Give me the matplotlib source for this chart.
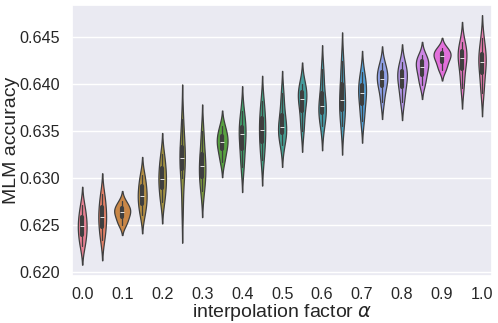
import numpy as np
import pandas as pd
import matplotlib
matplotlib.use("Agg")
import matplotlib.pyplot as plt
import seaborn as sns

# interpolation factors (x categories) and per-run MLM accuracy samples
alphas = ["0.0", "0.05", "0.1", "0.15", "0.2", "0.25", "0.3", "0.35", "0.4", "0.45",
          "0.5", "0.55", "0.6", "0.65", "0.7", "0.75", "0.8", "0.85", "0.9", "0.95", "1.0"]

acc_000 = [0.6227, 0.6234, 0.6241, 0.6246, 0.6251, 0.6256, 0.6263, 0.6271]
acc_005 = [0.6234, 0.6242, 0.6250, 0.6256, 0.6261, 0.6267, 0.6275, 0.6283]
acc_010 = [0.6250, 0.6254, 0.6259, 0.6262, 0.6265, 0.6267, 0.6270, 0.6275]
acc_015 = [0.6260, 0.6267, 0.6274, 0.6279, 0.6283, 0.6289, 0.6296, 0.6303]
acc_020 = [0.6274, 0.6282, 0.6291, 0.6296, 0.6302, 0.6308, 0.6316, 0.6325]
acc_025 = [0.6268, 0.6300, 0.6312, 0.6318, 0.6324, 0.6330, 0.6342, 0.6362]
acc_030 = [0.6286, 0.6294, 0.6303, 0.6310, 0.6315, 0.6322, 0.6335, 0.6350]
acc_035 = [0.6317, 0.6325, 0.6332, 0.6336, 0.6340, 0.6343, 0.6349, 0.6355]
acc_040 = [0.6311, 0.6322, 0.6334, 0.6343, 0.6349, 0.6352, 0.6361, 0.6371]
acc_045 = [0.6319, 0.6330, 0.6340, 0.6348, 0.6354, 0.6361, 0.6371, 0.6381]
acc_050 = [0.6335, 0.6343, 0.6349, 0.6352, 0.6356, 0.6364, 0.6375, 0.6390]
acc_055 = [0.6350, 0.6362, 0.6374, 0.6382, 0.6386, 0.6390, 0.6395, 0.6400]
acc_060 = [0.6355, 0.6364, 0.6370, 0.6374, 0.6378, 0.6386, 0.6400, 0.6415]
acc_065 = [0.6355, 0.6364, 0.6374, 0.6381, 0.6385, 0.6396, 0.6410, 0.6424]
acc_070 = [0.6360, 0.6370, 0.6381, 0.6388, 0.6392, 0.6397, 0.6404, 0.6412]
acc_075 = [0.6380, 0.6392, 0.6399, 0.6403, 0.6407, 0.6411, 0.6415, 0.6422]
acc_080 = [0.6380, 0.6390, 0.6398, 0.6404, 0.6408, 0.6412, 0.6417, 0.6423]
acc_085 = [0.6398, 0.6405, 0.6411, 0.6416, 0.6420, 0.6423, 0.6426, 0.6430]
acc_090 = [0.6414, 0.6419, 0.6424, 0.6428, 0.6430, 0.6432, 0.6435, 0.6438]
acc_095 = [0.6395, 0.6407, 0.6418, 0.6425, 0.6429, 0.6433, 0.6438, 0.6444]
acc_100 = [0.6390, 0.6402, 0.6414, 0.6421, 0.6425, 0.6430, 0.6437, 0.6448]

samples = [acc_000, acc_005, acc_010, acc_015, acc_020, acc_025, acc_030,
           acc_035, acc_040, acc_045, acc_050, acc_055, acc_060, acc_065,
           acc_070, acc_075, acc_080, acc_085, acc_090, acc_095, acc_100]

xtick_labels = ["0.0", "0.1", "0.2", "0.3", "0.4", "0.5", "0.6", "0.7", "0.8", "0.9", "1.0"]
yticks = [0.620, 0.625, 0.630, 0.635, 0.640, 0.645]

rows = []
for a, vals in zip(alphas, samples):
    for v in vals:
        rows.append({"alpha": a, "acc": v})
df = pd.DataFrame(rows)

sns.set_theme(style="darkgrid")
plt.rcParams["font.family"] = ["Liberation Sans", "DejaVu Sans"]

fig = plt.figure(figsize=(4.98, 3.23), dpi=100)
ax = fig.add_axes([0.145, 0.145, 0.843, 0.84])

palette = sns.color_palette("husl", len(alphas))
# common_norm so violin widths reflect density across all groups
sns.violinplot(data=df, x="alpha", y="acc", hue="alpha", order=alphas,
               hue_order=alphas, palette=palette, legend=False,
               common_norm=True, width=0.85, linewidth=0.9,
               inner_kws=dict(box_width=3, whis_width=0.9),
               ax=ax)

ax.set_xlim(-0.5, len(alphas) - 0.5)
ax.set_ylim(0.61954, 0.64837)
ax.set_xticks(range(0, len(alphas), 2))
ax.set_xticklabels(xtick_labels)
ax.set_yticks(yticks)
ax.set_yticklabels([f"{t:.3f}" for t in yticks])
ax.tick_params(labelsize=11.6)
ax.tick_params(axis="y", pad=3)
ax.tick_params(axis="x", pad=1.5)
ax.set_xlabel(r"interpolation factor $\alpha$", fontsize=14, labelpad=0)
ax.set_ylabel("MLM accuracy", fontsize=14)
ax.yaxis.set_label_coords(-0.124, 0.5)

fig.savefig("out.png", dpi=100)
